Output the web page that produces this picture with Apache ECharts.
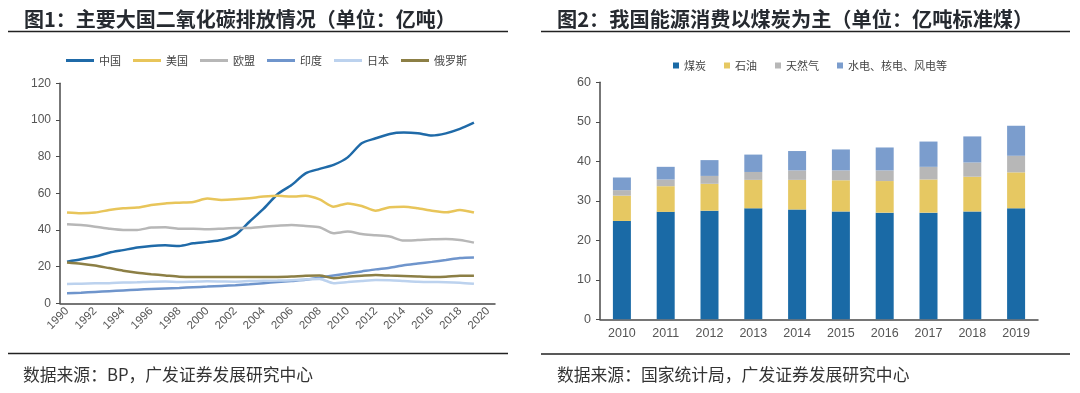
<!DOCTYPE html>
<html>
<head>
<meta charset="utf-8">
<script src="https://cdn.jsdelivr.net/npm/echarts@6/dist/echarts.min.js"></script>
<style>
html,body{margin:0;padding:0;background:#fff;}
#c{width:1080px;height:393px;}
</style>
</head>
<body>
<div id="c"></div>
<script>
// ---- Chart 1 data (亿吨) ----
const years1 = ['1990','1991','1992','1993','1994','1995','1996','1997','1998','1999','2000','2001','2002','2003','2004','2005','2006','2007','2008','2009','2010','2011','2012','2013','2014','2015','2016','2017','2018','2019','2020'];
const china  = [22.7,24.0,25.5,27.6,29.0,30.4,31.3,31.6,31.3,32.7,33.5,34.5,37.3,44.5,51.5,59.5,64.5,70.9,73.3,75.5,79.6,87.3,90.0,92.4,93.1,92.7,91.5,92.7,95.1,98.5];
const usa    = [49.5,49.1,49.5,50.9,51.8,52.2,53.6,54.5,54.9,55.3,57.1,56.4,56.7,57.3,58.2,58.7,58.2,58.7,56.7,52.7,54.5,53.1,50.5,52.4,52.7,51.8,50.5,49.6,50.9,49.5];
const eu     = [43.1,42.7,41.8,40.7,40.0,40.0,41.3,41.5,40.7,40.7,40.4,40.7,41.1,41.1,41.8,42.3,42.7,42.2,41.5,38.2,39.1,37.8,37.1,36.4,34.2,34.5,34.9,35.1,34.5,33.1];
const india  = [5.5,5.8,6.2,6.6,7.0,7.4,7.8,8.1,8.4,8.8,9.1,9.5,9.9,10.4,11.0,11.6,12.2,12.8,14.0,15.2,16.3,17.4,18.5,19.4,20.8,21.7,22.6,23.6,24.7,25.0];
const japan  = [10.5,10.7,10.9,11.0,11.3,11.5,11.8,11.9,11.6,11.8,12.0,11.9,11.8,12.1,12.3,12.4,12.6,13.0,13.3,11.0,11.6,12.2,12.7,12.6,12.2,11.8,11.6,11.5,11.2,10.6];
const russia = [22.3,21.6,20.6,19.2,17.8,16.7,15.9,15.2,14.5,14.3,14.3,14.3,14.3,14.4,14.4,14.4,14.6,15.0,15.1,13.7,14.5,15.0,15.4,15.1,14.9,14.6,14.4,14.5,15.0,15.0];
const names1 = ['中国','美国','欧盟','印度','日本','俄罗斯'];

// ---- Chart 2 data (亿吨标准煤) ----
const years2 = ['2010','2011','2012','2013','2014','2015','2016','2017','2018','2019'];
const coal   = [24.9,27.2,27.5,28.1,27.8,27.3,27.0,27.0,27.3,28.1];
const oil    = [6.4,6.5,6.8,7.2,7.5,7.9,8.0,8.4,8.8,9.1];
const gas    = [1.4,1.7,2.0,2.0,2.4,2.5,2.7,3.2,3.6,4.2];
const other  = [3.2,3.2,4.0,4.4,4.9,5.3,5.8,6.4,6.6,7.6];
const names2 = ['煤炭','石油','天然气','水电、核电、风电等'];

const colors1 = ['#1f6aa8','#e8c55a','#b7b7b7','#6f95cc','#bcd2ee','#8c7f45'];
const colors2 = ['#1a6aa6','#e6c862','#b7b7b7','#7b9dcd'];

const cjk = '"Noto Sans CJK SC", "Noto Sans", sans-serif';
const lat = '"Liberation Sans", Arial, sans-serif';
const axisColor = '#4a4a4a';
const labelColor = '#555';

const chart = echarts.init(document.getElementById('c'), null, {renderer:'canvas'});

const lineSeries = [china,usa,eu,india,japan,russia].map((d,i)=>({
  name: names1[i], type:'line', xAxisIndex:0, yAxisIndex:0,
  data: d, symbol:'none', smooth:0.25,
  lineStyle:{width:2.5, color:colors1[i]}, itemStyle:{color:colors1[i]},
  z: 2 + i
}));
const barSeries = [coal,oil,gas,other].map((d,i)=>({
  name: names2[i], type:'bar', xAxisIndex:1, yAxisIndex:1, stack:'energy',
  data: d, barWidth:18, itemStyle:{color:colors2[i]}
}));

chart.setOption({
  animation:false,
  textStyle:{fontFamily:cjk},
  title:[
    {text:'图1：主要大国二氧化碳排放情况（单位：亿吨）', left:19, top:4,
     textStyle:{fontFamily:cjk, fontSize:20, fontWeight:'bold', color:'#262a30'}},
    {text:'图2：我国能源消费以煤炭为主（单位：亿吨标准煤）', left:552, top:4,
     textStyle:{fontFamily:cjk, fontSize:20.2, fontWeight:'bold', color:'#262a30'}},
    {text:'数据来源：BP，广发证券发展研究中心', left:18, top:361,
     textStyle:{fontFamily:cjk, fontSize:16.8, fontWeight:'normal', color:'#333'}},
    {text:'数据来源：国家统计局，广发证券发展研究中心', left:552, top:361,
     textStyle:{fontFamily:cjk, fontSize:16.8, fontWeight:'normal', color:'#333'}}
  ],
  graphic:[
    {type:'line', shape:{x1:8,y1:31.5,x2:508,y2:31.5}, style:{stroke:'#222', lineWidth:1.5}},
    {type:'line', shape:{x1:541,y1:31.5,x2:1070,y2:31.5}, style:{stroke:'#222', lineWidth:1.5}},
    {type:'line', shape:{x1:8,y1:353.5,x2:508,y2:353.5}, style:{stroke:'#222', lineWidth:1.5}},
    {type:'line', shape:{x1:541,y1:354,x2:1070,y2:354}, style:{stroke:'#222', lineWidth:1.5}}
  ],
  legend:[
    {data:names1, left:61, top:50, itemWidth:28, itemHeight:3, icon:'rect', itemGap:12,
     textStyle:{fontFamily:cjk, fontSize:11, color:'#444'}},
    {data:names2, left:668, top:55, itemWidth:6, itemHeight:6, icon:'rect', itemGap:18,
     textStyle:{fontFamily:cjk, fontSize:11, color:'#444'}}
  ],
  grid:[
    {left:60, top:83.3, width:435, height:220},
    {left:600, top:82.3, width:438, height:237}
  ],
  xAxis:[
    {type:'category', gridIndex:0, data:years1, boundaryGap:true,
     axisLine:{lineStyle:{color:axisColor, width:1.5}},
     axisTick:{interval:1, length:4, lineStyle:{color:axisColor}},
     axisLabel:{interval:1, rotate:45, margin:6, fontFamily:lat, fontSize:11.5, color:labelColor}},
    {type:'category', gridIndex:1, data:years2, boundaryGap:true,
     axisLine:{lineStyle:{color:axisColor, width:1.5}},
     axisTick:{length:4, lineStyle:{color:axisColor}},
     axisLabel:{margin:8, fontFamily:lat, fontSize:12.5, color:labelColor}}
  ],
  yAxis:[
    {type:'value', gridIndex:0, min:0, max:120, interval:20,
     splitLine:{show:false},
     axisLine:{show:true, lineStyle:{color:axisColor, width:1.5}},
     axisTick:{show:true, length:4, lineStyle:{color:axisColor}},
     axisLabel:{margin:9, fontFamily:lat, fontSize:12, color:labelColor}},
    {type:'value', gridIndex:1, min:0, max:60, interval:10,
     splitLine:{show:false},
     axisLine:{show:true, lineStyle:{color:axisColor, width:1.5}},
     axisTick:{show:true, length:4, lineStyle:{color:axisColor}},
     axisLabel:{margin:9, fontFamily:lat, fontSize:12.5, color:labelColor}}
  ],
  series: lineSeries.concat(barSeries)
});
</script>
</body>
</html>
